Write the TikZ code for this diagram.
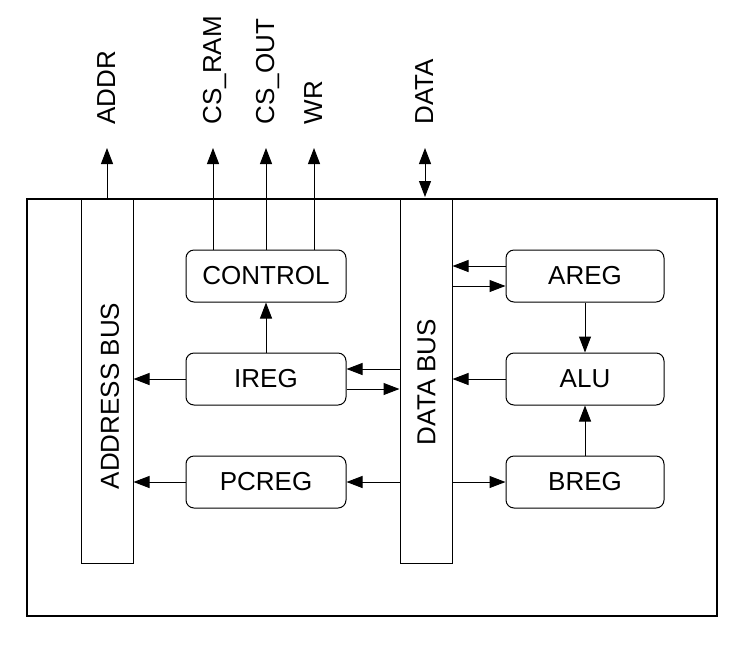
\documentclass[tikz,border=0pt]{standalone}
\usepackage{fontspec}
\setmainfont{Liberation Sans}
\usetikzlibrary{arrows.meta}
\begin{document}
\begin{tikzpicture}[x=1pt,y=-1pt,
  line width=1pt,
  every node/.style={font=\fontsize{26}{30}\selectfont, inner sep=0pt},
  reg/.style={draw, rounded corners=8pt, minimum height=52pt, anchor=center},
  busbox/.style={draw, minimum width=52pt, minimum height=364pt},
  arr/.style={-{Triangle[length=16pt,width=12pt]}},
  darr/.style={{Triangle[length=16pt,width=12pt]}-{Triangle[length=16pt,width=12pt]}},
  sig/.style={rotate=90, anchor=base west}]
\useasboundingbox (0,0) rectangle (738,646);
\draw[line width=1.4pt] (27,199) rectangle (717,616);
% buses
\node[busbox] (abus) at (107,381) {};
\node[busbox] (dbus) at (426,381) {};
\node[rotate=90] (abuslbl) at (110,396) {ADDRESS BUS};
\node[rotate=90] (dbuslbl) at (426.5,382) {DATA BUS};
% registers
\node[reg, minimum width=160pt] (ctrl) at (266,276) {CONTROL};
\node[reg, minimum width=160pt] (ireg) at (266,379) {IREG};
\node[reg, minimum width=160pt] (pcreg) at (266,482) {PCREG};
\node[reg, minimum width=158pt] (areg) at (585,276) {AREG};
\node[reg, minimum width=158pt] (alu) at (585,379) {ALU};
\node[reg, minimum width=158pt] (breg) at (585,482) {BREG};
% top signal endpoints
\coordinate (addrT) at (107,148);
\coordinate (csramT) at (213,148);
\coordinate (csoutT) at (266,148);
\coordinate (wrT) at (314,148);
\coordinate (dataT) at (425,148);
\coordinate (dataB) at (425,197);
% top labels
\node[sig] (addrL) at (115,125) {ADDR};
\node[sig] (csramL) at (221,125) {CS\_RAM};
\node[sig] (csoutL) at (274,125) {CS\_OUT};
\node[sig] (wrL) at (322,125) {WR};
\node[sig] (dataL) at (433,125) {DATA};
% top connectors
\draw[arr] (abus.north -| addrT) -- (addrT);
\draw[arr] (ctrl.north -| csramT) -- (csramT);
\draw[arr] (ctrl.north -| csoutT) -- (csoutT);
\draw[arr] (ctrl.north -| wrT) -- (wrT);
\draw[darr] (dataB) -- (dataT);
% internal connectors
\draw[arr] (ireg.north) -- (ctrl.south);
\draw[arr] (ireg.west) -- (ireg.west -| abus.east);
\draw[arr] (pcreg.west) -- (pcreg.west -| abus.east);
\draw[arr] ([yshift=10pt]ireg.east -| dbus.west) -- ([yshift=10pt]ireg.east);
\draw[arr] ([yshift=-10pt]ireg.east) -- ([yshift=-10pt]ireg.east -| dbus.west);
\draw[arr] (pcreg.east -| dbus.west) -- (pcreg.east);
\draw[arr] ([yshift=10pt]areg.west) -- ([yshift=10pt]areg.west -| dbus.east);
\draw[arr] ([yshift=-10pt]areg.west -| dbus.east) -- ([yshift=-10pt]areg.west);
\draw[arr] (alu.west) -- (alu.west -| dbus.east);
\draw[arr] (breg.west -| dbus.east) -- (breg.west);
\draw[arr] (areg.south) -- (alu.north);
\draw[arr] (breg.north) -- (alu.south);
\end{tikzpicture}
\end{document}
